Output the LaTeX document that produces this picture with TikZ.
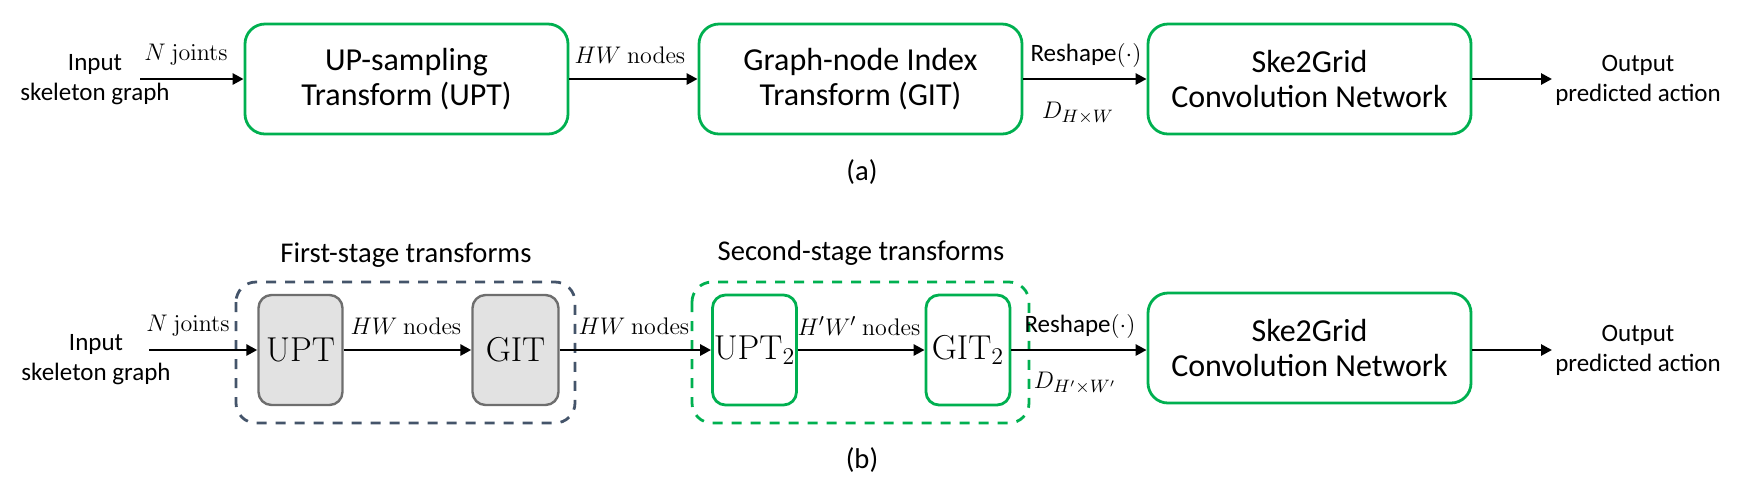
\documentclass[tikz,border=0pt]{standalone}
\usepackage[no-math]{fontspec}
\setmainfont{Carlito}
\usetikzlibrary{arrows.meta}
\definecolor{pgreen}{HTML}{00B050}
\definecolor{pslate}{HTML}{44546A}
\definecolor{pgreyfill}{HTML}{E2E2E2}
\definecolor{pgreyline}{HTML}{6E6E6E}
\begin{document}
\begin{tikzpicture}[x=0.5pt,y=-0.5pt,
  bigbox/.style={draw=pgreen,line width=1.4pt,rounded corners=10pt,minimum width=161.5pt,minimum height=55pt,inner sep=0pt,align=center,font=\fontsize{16}{17.5}\selectfont},
  greybox/.style={draw=pgreyline,fill=pgreyfill,line width=1.2pt,rounded corners=6.5pt,minimum width=42pt,minimum height=55pt,inner sep=0pt,font=\fontsize{16.5}{18}\selectfont},
  greenbox/.style={draw=pgreen,line width=1.4pt,rounded corners=6.5pt,minimum width=42pt,minimum height=55pt,inner sep=0pt,font=\fontsize{16.5}{18}\selectfont},
  stagebox/.style={line width=1.4pt,rounded corners=10pt,dash pattern=on 5pt off 4.5pt},
  sidetext/.style={align=center,inner sep=0pt,font=\fontsize{12.5}{15}\selectfont},
  lbl/.style={inner sep=0pt,font=\fontsize{12.5}{15}\selectfont},
  titletext/.style={inner sep=0pt,font=\fontsize{14.3}{16}\selectfont},
  flow/.style={line width=1.4pt,-{Triangle[length=5.5pt,width=5.5pt]}}
]
\useasboundingbox (0,0) rectangle (1760,495);

% ---------- (a) ----------
\node[sidetext] (in1) at (95,80) {Input\\skeleton graph};
\coordinate (s1) at (140,79);
\node[bigbox] (upt1) at (406.5,79) {UP-sampling\\Transform (UPT)};
\node[bigbox] (git1) at (860.5,79) {Graph-node Index\\Transform (GIT)};
\node[bigbox] (ske1) at (1309.5,79) {Ske2Grid\\Convolution Network};
\coordinate (e1) at (1552,79);
\node[sidetext] (out1) at (1638,80) {Output\\predicted action};

\draw[flow] (s1) -- (upt1.west);
\draw[flow] (upt1.east) -- (git1.west);
\draw[flow] (git1.east) -- (ske1.west);
\draw[flow] (ske1.east) -- (e1);

\node[lbl] (la1) at (186,55) {$N\ \mathrm{joints}$};
\node[lbl] (la2) at (630,55) {$HW\ \mathrm{nodes}$};
\node[lbl] (la3) at (1086,55) {Reshape$(\cdot)$};
\node[lbl] (la4) at (1078,113) {$D_{H\times W}$};
\node[titletext] (capa) at (862,172) {(a)};

% ---------- (b) ----------
\draw[stagebox,draw=pslate] (236,282) rectangle (575,423);
\draw[stagebox,draw=pgreen] (692,282) rectangle (1029,423);
\node[titletext] (t1) at (406,255) {First-stage transforms};
\node[titletext] (t2) at (861,253) {Second-stage transforms};

\node[sidetext] (in2) at (96,360) {Input\\skeleton graph};
\coordinate (s2) at (149,350);
\node[greybox] (uptg) at (300.5,350) {$\mathrm{UPT}$};
\node[greybox,minimum width=43pt] (gitg) at (515.5,350) {$\mathrm{GIT}$};
\node[greenbox] (upt2) at (754.5,350) {$\mathrm{UPT}_2$};
\node[greenbox] (git2) at (968,350) {$\mathrm{GIT}_2$};
\node[bigbox] (ske2) at (1309.5,348) {Ske2Grid\\Convolution Network};
\coordinate (e2) at (1552,350);
\node[sidetext] (out2) at (1638,350) {Output\\predicted action};

\draw[flow] (s2) -- (uptg.west);
\draw[flow] (uptg.east) -- (gitg.west);
\draw[flow] (gitg.east) -- (upt2.west);
\draw[flow] (upt2.east) -- (git2.west);
\draw[flow] (git2.east) -- (git2.east -| ske2.west);
\draw[flow] (ske2.east |- e2) -- (e2);

\node[lbl] (lb1) at (188,326) {$N\ \mathrm{joints}$};
\node[lbl] (lb2) at (406,326) {$HW\ \mathrm{nodes}$};
\node[lbl] (lb3) at (634,326) {$HW\ \mathrm{nodes}$};
\node[lbl] (lb4) at (859,326) {$H'W'\ \mathrm{nodes}$};
\node[lbl] (lb5) at (1080,326) {Reshape$(\cdot)$};
\node[lbl] (lb6) at (1075,383) {$D_{H'\times W'}$};
\node[titletext] (capb) at (862,460) {(b)};
\end{tikzpicture}
\end{document}
